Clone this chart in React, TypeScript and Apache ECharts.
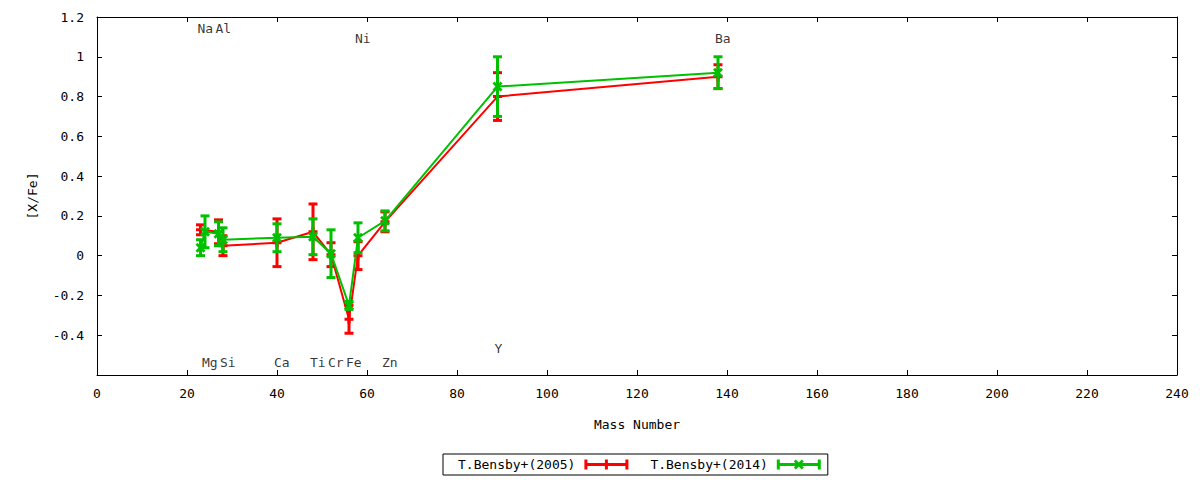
import React, { useEffect, useRef } from "react";
import * as echarts from "echarts";

// ---- data ----
const elements = ["Na", "Mg", "Al", "Si", "Ca", "Ti", "Cr", "Fe", "Ni", "Zn", "Y", "Ba"];
const massNumbers = [23, 24, 27, 28, 40, 48, 52, 56, 58, 64, 89, 138];
const labelYValues = [1.14, -0.535, 1.14, -0.535, -0.535, -0.535, -0.535, -0.535, 1.09, -0.535, -0.465, 1.09];

const bensby2005Name = "T.Bensby+(2005)";
const bensby2005 = [0.13, null, 0.12, 0.05, 0.065, 0.12, 0.005, -0.32, 0.0, 0.17, 0.8, 0.9];
const bensby2005Err = [0.025, null, 0.06, 0.05, 0.12, 0.14, 0.06, 0.07, 0.07, 0.05, 0.12, 0.06];

const bensby2014Name = "T.Bensby+(2014)";
const bensby2014 = [0.04, 0.12, 0.11, 0.08, 0.09, 0.095, 0.01, -0.25, 0.09, 0.175, 0.85, 0.92];
const bensby2014Err = [0.04, 0.08, 0.06, 0.06, 0.07, 0.09, 0.12, 0.02, 0.075, 0.05, 0.15, 0.08];

const xTicks = { min: 0, max: 240, interval: 20 };
const yTicks = { min: -0.6, max: 1.2, interval: 0.2 };

const RED = "#ff0000";
const GREEN = "#00c000";
const FONT = "DejaVu Sans Mono";

const plusSymbol = "path://M3,0h3v3h3v3h-3v3h-3v-3h-3v-3h3z";
const crossSymbol = "path://M0,2L2,0L5,3L8,0L10,2L7,5L10,8L8,10L5,7L2,10L0,8L3,5Z";
const redIcon = "path://M0,0h3v10h-3z M0,3.5h44v3h-44z M41,0h3v10h-3z M20.5,0h3v10h-3z";
const greenIcon =
  "path://M0,0h3v10h-3z M0,3.5h44v3h-44z M41,0h3v10h-3z M17,2L19,0L22,3L25,0L27,2L24,5L27,8L25,10L22,7L19,10L17,8L20,5Z";

function lineData(values: (number | null)[]) {
  return massNumbers.map((m, i) => [m, values[i]]).filter((d) => d[1] !== null);
}
function errData(values: (number | null)[], errs: (number | null)[]) {
  const out: number[][] = [];
  massNumbers.forEach((m, i) => {
    const v = values[i];
    const e = errs[i];
    if (v !== null && e !== null) out.push([m, v - e, v + e]);
  });
  return out;
}

function makeErrRender(color: string) {
  return (params: any, api: any) => {
    const x = api.value(0);
    const lo = api.coord([x, api.value(1)]);
    const hi = api.coord([x, api.value(2)]);
    const w = 4.5;
    const style = { stroke: color, lineWidth: 3, fill: "none" };
    return {
      type: "group",
      children: [
        { type: "line", shape: { x1: lo[0], y1: lo[1], x2: hi[0], y2: hi[1] }, style },
        { type: "line", shape: { x1: lo[0] - w, y1: lo[1], x2: lo[0] + w, y2: lo[1] }, style },
        { type: "line", shape: { x1: hi[0] - w, y1: hi[1], x2: hi[0] + w, y2: hi[1] }, style },
      ],
    };
  };
}

const axisLine = { onZero: false, lineStyle: { color: "#000", width: 1 } };
const axisTick = { inside: true, length: 5, lineStyle: { color: "#000", width: 1 } };
const fmtY = (v: number) => (v < -0.55 ? "" : String(Number(v.toFixed(1))));

export default function App() {
  const ref = useRef<HTMLDivElement>(null);
  useEffect(() => {
    if (!ref.current) return;
    const chart = echarts.init(ref.current, undefined, { renderer: "svg" });
    const option: any = {
      animation: false,
      backgroundColor: "#ffffff",
      textStyle: { fontFamily: FONT, fontSize: 13, color: "#000" },
      grid: { left: 97, right: 23, top: 17, bottom: 105, containLabel: false },
      xAxis: [
        {
          type: "value",
          ...xTicks,
          position: "bottom",
          name: "Mass Number",
          nameLocation: "middle",
          nameGap: 43,
          nameTextStyle: { fontFamily: FONT, fontSize: 13, color: "#000" },
          axisLine,
          axisTick,
          axisLabel: { margin: 12, color: "#000", fontFamily: FONT, fontSize: 13 },
          splitLine: { show: false },
        },
        {
          type: "value",
          ...xTicks,
          position: "top",
          axisLine,
          axisTick,
          axisLabel: { show: false },
          splitLine: { show: false },
        },
      ],
      yAxis: [
        {
          type: "value",
          ...yTicks,
          position: "left",
          name: "[X/Fe]",
          nameLocation: "middle",
          nameGap: 58,
          nameRotate: 90,
          nameTextStyle: { fontFamily: FONT, fontSize: 13, color: "#000" },
          axisLine,
          axisTick,
          axisLabel: { margin: 13, color: "#000", fontFamily: FONT, fontSize: 13, formatter: fmtY },
          splitLine: { show: false },
        },
        {
          type: "value",
          ...yTicks,
          position: "right",
          axisLine,
          axisTick,
          axisLabel: { show: false },
          splitLine: { show: false },
        },
      ],
      legend: {
        left: 443,
        top: 454,
        orient: "horizontal",
        align: "right",
        itemWidth: 44,
        itemHeight: 10,
        itemGap: 22,
        padding: [4, 7, 4, 15],
        borderColor: "#000",
        borderWidth: 1,
        borderRadius: 0,
        selectedMode: false,
        textStyle: { fontFamily: FONT, fontSize: 13, color: "#000", padding: [0, 4, 0, 0] },
        data: [
          { name: bensby2005Name, icon: redIcon, itemStyle: { color: RED } },
          { name: bensby2014Name, icon: greenIcon, itemStyle: { color: GREEN } },
        ],
      },
      series: [
        {
          type: "scatter",
          silent: true,
          symbolSize: 0,
          z: 1,
          data: massNumbers.map((m, i) => [m, labelYValues[i], elements[i]]),
          label: {
            show: true,
            position: "inside",
            align: "left",
            verticalAlign: "middle",
            offset: [-3, 0],
            formatter: (p: any) => p.data[2],
            fontFamily: FONT,
            fontSize: 13,
            color: "#000",
          },
        },
        {
          type: "custom",
          name: bensby2005Name,
          z: 2,
          silent: true,
          itemStyle: { color: RED },
          encode: { x: 0, y: [1, 2] },
          renderItem: makeErrRender(RED),
          data: errData(bensby2005, bensby2005Err),
        },
        {
          type: "line",
          name: bensby2005Name,
          z: 3,
          silent: true,
          data: lineData(bensby2005),
          color: RED,
          lineStyle: { color: RED, width: 2 },
          itemStyle: { color: RED },
          symbol: plusSymbol,
          symbolSize: 9,
          showSymbol: true,
        },
        {
          type: "custom",
          name: bensby2014Name,
          z: 4,
          silent: true,
          itemStyle: { color: GREEN },
          encode: { x: 0, y: [1, 2] },
          renderItem: makeErrRender(GREEN),
          data: errData(bensby2014, bensby2014Err),
        },
        {
          type: "line",
          name: bensby2014Name,
          z: 5,
          silent: true,
          data: lineData(bensby2014),
          color: GREEN,
          lineStyle: { color: GREEN, width: 2 },
          itemStyle: { color: GREEN },
          symbol: crossSymbol,
          symbolSize: 10,
          showSymbol: true,
        },
      ],
    };
    chart.setOption(option);
    return () => chart.dispose();
  }, []);
  return (
    <div
      ref={ref}
      style={{ position: "absolute", left: 0, top: 0, width: 1200, height: 480, background: "#fff" }}
    />
  );
}
